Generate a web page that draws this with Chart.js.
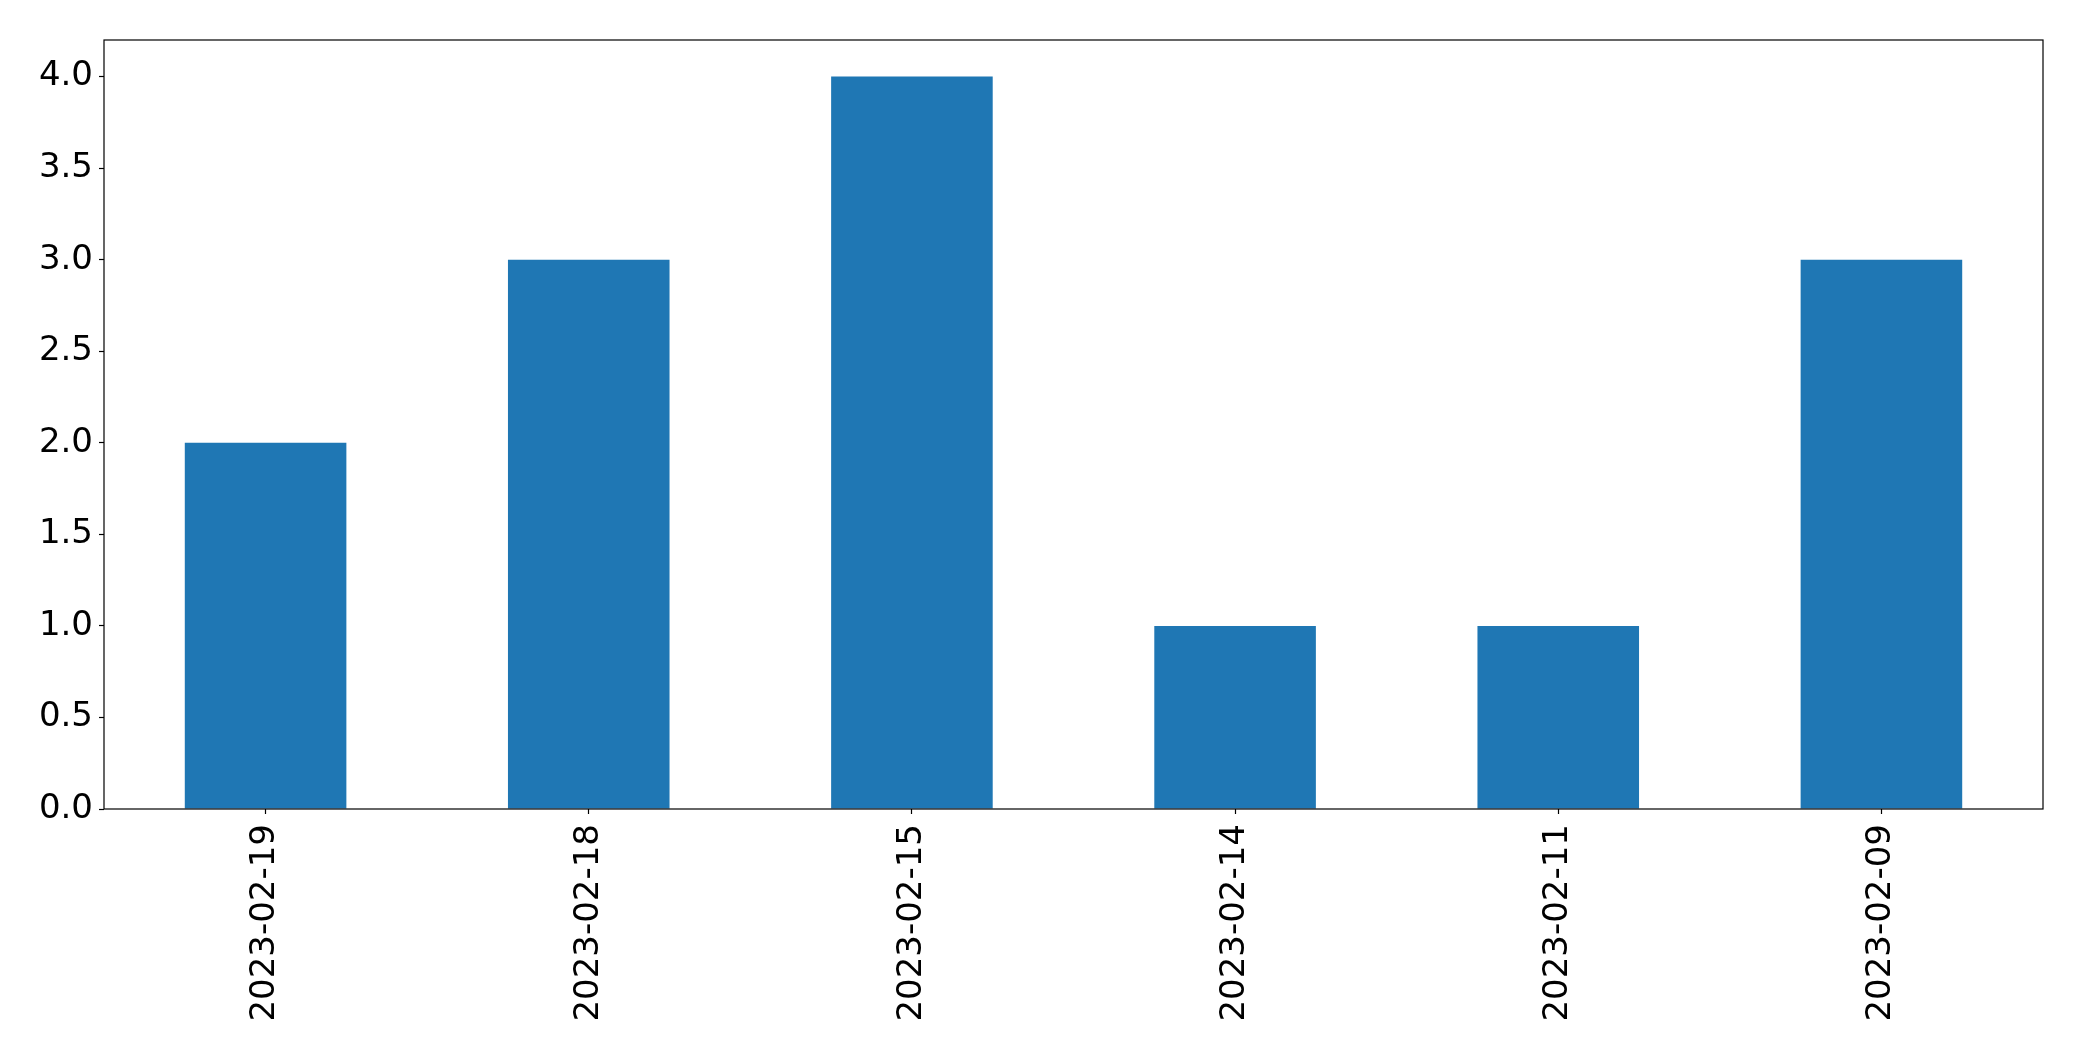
<!DOCTYPE html>
<html>
<head>
<meta charset="utf-8">
<script src="https://cdn.jsdelivr.net/npm/chart.js@4.4.0/dist/chart.umd.min.js"></script>
<style>
    html, body { margin: 0; padding: 0; background: #ffffff; }
    #wrap { width: 2082px; height: 1061px; }
</style>
</head>
<body>
<div id="wrap"><canvas id="barChart" width="2082" height="1061"></canvas></div>
<script>
// data
var dates = ['2023-02-19', '2023-02-18', '2023-02-15', '2023-02-14', '2023-02-11', '2023-02-09'];
var counts = [2, 3, 4, 1, 1, 3];
var yMax = 4.2;
var yStep = 0.5;

// box round the plot area, like matplotlib's spines
var frameBox = {
    id: 'frameBox',
    afterDraw: function(chart) {
        var a = chart.chartArea;
        var ctx = chart.ctx;
        ctx.save();
        ctx.strokeStyle = '#000000';
        ctx.lineWidth = 1.2;
        ctx.strokeRect(a.left, a.top, a.right - a.left, a.bottom - a.top);
        ctx.restore();
    }
};

var ctx = document.getElementById('barChart');
new Chart(ctx, {
    type: 'bar',
    data: {
        labels: dates,
        datasets: [{
            data: counts,
            backgroundColor: '#1f77b4',
            borderWidth: 0,
            barPercentage: 0.5,
            categoryPercentage: 1.0
        }]
    },
    options: {
        responsive: false,
        animation: false,
        devicePixelRatio: 1,
        layout: {
            padding: { top: 40, right: 39, left: 0, bottom: 0 }
        },
        plugins: {
            legend: { display: false },
            tooltip: { enabled: false }
        },
        scales: {
            x: {
                offset: true,
                grid: {
                    offset: false,
                    drawOnChartArea: false,
                    drawTicks: true,
                    tickLength: 5,
                    tickWidth: 1.2,
                    color: '#000000'
                },
                border: { display: false },
                ticks: {
                    minRotation: 90,
                    maxRotation: 90,
                    padding: 10,
                    color: '#000000',
                    font: { family: 'DejaVu Sans', size: 34 }
                },
                afterFit: function(scale) { scale.height = 252; }
            },
            y: {
                min: 0,
                max: yMax,
                grid: {
                    drawOnChartArea: false,
                    drawTicks: true,
                    tickLength: 5,
                    tickWidth: 1.2,
                    color: '#000000'
                },
                border: { display: false },
                ticks: {
                    stepSize: yStep,
                    includeBounds: false,
                    padding: 6,
                    color: '#000000',
                    font: { family: 'DejaVu Sans', size: 34 },
                    callback: function(v) { return Number(v).toFixed(1); }
                },
                afterFit: function(scale) { scale.width = 104; }
            }
        }
    },
    plugins: [frameBox]
});
</script>
</body>
</html>
